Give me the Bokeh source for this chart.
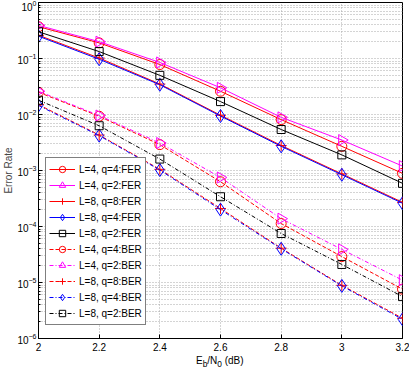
import math
from bokeh.plotting import figure
from bokeh.models import Legend, LegendItem, FixedTicker, Div
from bokeh.layouts import column
from bokeh.embed import file_html
from bokeh.resources import INLINE

snr = [2.0, 2.2, 2.4, 2.6, 2.8, 3.0, 3.2]

fer_L4_q4 = [0.37, 0.19, 0.078, 0.026, 0.0081, 0.0027, 0.00089]
fer_L4_q2 = [0.39, 0.20, 0.085, 0.030, 0.0089, 0.0035, 0.0012]
fer_L8_q8 = [0.26, 0.102, 0.035, 0.0097, 0.0028, 0.00087, 0.00027]
fer_L8_q4 = [0.25, 0.097, 0.034, 0.0094, 0.0027, 0.00084, 0.00026]
fer_L8_q2 = [0.30, 0.133, 0.050, 0.017, 0.0054, 0.0019, 0.00059]

ber_L4_q4 = [0.025, 0.0093, 0.0029, 0.00063, 0.000113, 0.000029, 0.0000076]
ber_L4_q2 = [0.026, 0.0096, 0.0031, 0.00075, 0.000138, 0.000039, 0.000011]
ber_L8_q8 = [0.0150, 0.0043, 0.00105, 0.00021, 0.000041, 0.0000089, 0.0000023]
ber_L8_q4 = [0.0145, 0.0042, 0.00102, 0.00020, 0.000040, 0.0000087, 0.0000022]
ber_L8_q2 = [0.0180, 0.0063, 0.0016, 0.00034, 0.000075, 0.000021, 0.0000056]

x_ticks = [2.0, 2.2, 2.4, 2.6, 2.8, 3.0, 3.2]
x_tick_labels = ["2", "2.2", "2.4", "2.6", "2.8", "3", "3.2"]
y_ticks = [1e-6, 1e-5, 1e-4, 1e-3, 1e-2, 1e-1, 1.0]
y_minor = [k * 10.0 ** e for e in range(-6, 0) for k in range(2, 10)]

FONT = "Liberation Sans"

p = figure(frame_width=364, frame_height=336, y_axis_type="log",
           x_range=(2, 3.2), y_range=(1e-6, 1),
           output_backend="svg", toolbar_location=None,
           min_border_left=26, min_border_right=7,
           min_border_top=2, min_border_bottom=16)

p.background_fill_color = "white"
p.border_fill_color = "white"
p.outline_line_color = "black"
p.outline_line_width = 1

xt = FixedTicker(ticks=x_ticks)
yt = FixedTicker(ticks=y_ticks, minor_ticks=y_minor)
p.xaxis.ticker = xt
p.yaxis.ticker = yt
p.xaxis.major_label_overrides = dict(zip(x_ticks, x_tick_labels))
p.xgrid.ticker = xt
p.ygrid.ticker = yt

for ax in (p.xaxis[0], p.yaxis[0]):
    ax.major_tick_in = 4
    ax.major_tick_out = 0
    ax.minor_tick_in = 2
    ax.minor_tick_out = 0
    ax.axis_line_color = "black"
    ax.major_tick_line_color = "black"
    ax.minor_tick_line_color = "black"
    ax.major_label_text_font = FONT
    ax.major_label_text_font_size = "10px"
    ax.major_label_text_color = "black"
p.xaxis.major_label_standoff = 4
p.yaxis.major_label_standoff = 2
p.yaxis.axis_label = "Error Rate"
p.yaxis.axis_label_text_font = FONT
p.yaxis.axis_label_text_font_size = "10px"
p.yaxis.axis_label_text_font_style = "normal"
p.yaxis.axis_label_standoff = 0

grid_col = "#a8a8a8"
p.xgrid.grid_line_color = grid_col
p.xgrid.grid_line_dash = "1 2"
p.ygrid.grid_line_color = grid_col
p.ygrid.grid_line_dash = "1 2"
p.ygrid.minor_grid_line_color = grid_col
p.ygrid.minor_grid_line_dash = "1 2"

RED = "#ff0000"
MAG = "#ff00ff"
BLUE = "#0000ff"
BLK = "#000000"

series = [
    ("L=4, q=4:FER", fer_L4_q4, RED, "solid", "circle", 10, 0.0),
    ("L=4, q=2:FER", fer_L4_q2, MAG, "solid", "triangle", 11, -math.pi / 2),
    ("L=8, q=8:FER", fer_L8_q8, RED, "solid", "cross", 11, 0.0),
    ("L=8, q=4:FER", fer_L8_q4, BLUE, "solid", "diamond", 13, 0.0),
    ("L=8, q=2:FER", fer_L8_q2, BLK, "solid", "square", 8, 0.0),
    ("L=4, q=4:BER", ber_L4_q4, RED, "4 2", "circle", 10, 0.0),
    ("L=4, q=2:BER", ber_L4_q2, MAG, "4 2 1 2", "triangle", 11, -math.pi / 2),
    ("L=8, q=8:BER", ber_L8_q8, RED, "4 2", "cross", 11, 0.0),
    ("L=8, q=4:BER", ber_L8_q4, BLUE, "4 2 1 2", "diamond", 13, 0.0),
    ("L=8, q=2:BER", ber_L8_q2, BLK, "4 2 1 2", "square", 8, 0.0),
]

items = []
for label, ys, col, dash, marker, size, ang in series:
    lr = p.line(snr, ys, line_color=col, line_width=1, line_dash=dash)
    sr = p.scatter(snr, ys, marker=marker, size=size, angle=ang,
                   line_color=col, fill_color=None, line_width=1)
    items.append(LegendItem(label=label, renderers=[lr, sr]))

legend = Legend(items=items, location=(7, 13))
legend.label_text_font = FONT
legend.label_text_font_size = "10px"
legend.label_text_line_height = 1.12
legend.label_text_color = "black"
legend.glyph_width = 26
legend.glyph_height = 16
legend.label_height = 16
legend.label_standoff = 4
legend.spacing = 0
legend.padding = 3
legend.margin = 0
legend.border_line_color = "black"
legend.border_line_width = 1
legend.background_fill_color = "white"
legend.background_fill_alpha = 1.0
p.add_layout(legend, "center")

xlabel = Div(
    text="E<sub>b</sub>/N<sub>0</sub> (dB)",
    margin=(1, 0, 0, 196),
    styles={"font-family": FONT, "font-size": "10px", "color": "black",
            "line-height": "12px"},
)

layout = column(p, xlabel, spacing=0)
open("out.html", "w").write(file_html(layout, INLINE))
